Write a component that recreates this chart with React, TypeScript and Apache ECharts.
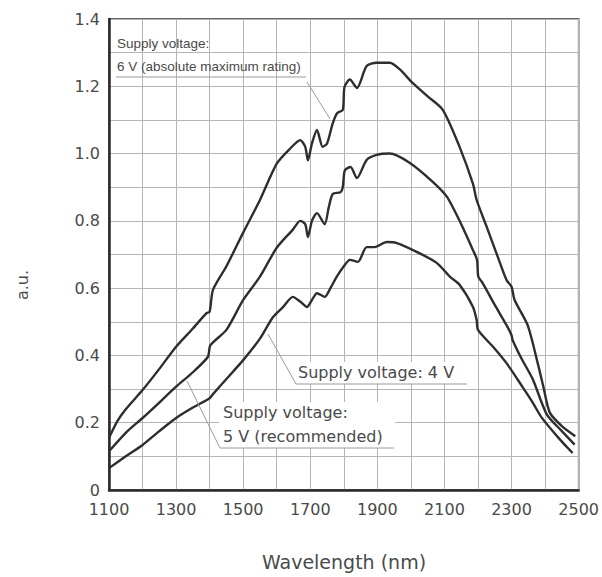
import React, { useEffect, useRef } from "react";
import * as echarts from "echarts";

// Wavelength (nm) / relative output (a.u.)
const wl6V = [1100, 1125, 1150, 1200, 1250, 1300, 1350, 1390, 1400, 1410, 1450, 1500, 1550, 1600, 1640, 1670, 1685, 1693, 1705, 1720, 1737, 1750, 1767, 1780, 1797, 1802, 1818, 1839, 1868, 1898, 1937, 1967, 2005, 2050, 2095, 2145, 2185, 2196, 2226, 2260, 2285, 2300, 2309, 2348, 2378, 2395, 2414, 2450, 2490];
const val6V = [0.155, 0.205, 0.24, 0.297, 0.36, 0.426, 0.48, 0.525, 0.53, 0.595, 0.665, 0.765, 0.862, 0.97, 1.015, 1.04, 1.02, 0.98, 1.03, 1.07, 1.02, 1.03, 1.09, 1.12, 1.13, 1.198, 1.22, 1.195, 1.26, 1.27, 1.27, 1.25, 1.21, 1.17, 1.13, 1.02, 0.91, 0.862, 0.782, 0.69, 0.624, 0.604, 0.565, 0.49, 0.377, 0.306, 0.23, 0.19, 0.16];

const wl5V = [1100, 1150, 1200, 1250, 1300, 1350, 1395, 1402, 1450, 1500, 1550, 1600, 1648, 1670, 1685, 1693, 1705, 1720, 1743, 1755, 1767, 1790, 1797, 1803, 1820, 1839, 1868, 1898, 1937, 1997, 2065, 2107, 2150, 2185, 2197, 2201, 2214, 2250, 2285, 2300, 2303, 2330, 2363, 2405, 2450, 2488];
const val5V = [0.115, 0.17, 0.214, 0.26, 0.307, 0.35, 0.396, 0.43, 0.476, 0.565, 0.634, 0.72, 0.774, 0.8, 0.79, 0.752, 0.8, 0.823, 0.79, 0.84, 0.88, 0.885, 0.9, 0.95, 0.96, 0.927, 0.981, 0.996, 1.0, 0.972, 0.916, 0.872, 0.79, 0.713, 0.684, 0.634, 0.615, 0.55, 0.49, 0.46, 0.446, 0.39, 0.33, 0.225, 0.175, 0.135];

const wl4V = [1100, 1150, 1200, 1250, 1300, 1350, 1400, 1410, 1450, 1500, 1550, 1589, 1620, 1648, 1670, 1690, 1705, 1720, 1743, 1760, 1779, 1800, 1818, 1842, 1868, 1892, 1928, 1958, 2017, 2077, 2116, 2145, 2185, 2196, 2200, 2250, 2285, 2333, 2360, 2390, 2440, 2482];
const val4V = [0.065, 0.1, 0.134, 0.175, 0.214, 0.245, 0.273, 0.285, 0.33, 0.386, 0.45, 0.514, 0.545, 0.574, 0.56, 0.544, 0.565, 0.585, 0.574, 0.6, 0.634, 0.665, 0.684, 0.678, 0.722, 0.722, 0.737, 0.734, 0.708, 0.675, 0.634, 0.61, 0.544, 0.505, 0.476, 0.42, 0.377, 0.306, 0.265, 0.215, 0.155, 0.11];

const xTickLabels = ["1100", "1300", "1500", "1700", "1900", "2100", "2300", "2500"];
const yTickLabels = ["0", "0.2", "0.4", "0.6", "0.8", "1.0", "1.2", "1.4"];

const pairs = (xs: number[], ys: number[]) => xs.map((x, i) => [x, ys[i]]);

const LINE = "#2e2e2e";
const TEXT = "#4a4a4a";
const LEAD = "#9a9a9a";
const FONT = "'DejaVu Sans', Verdana, sans-serif";

export default function App() {
  const ref = useRef<HTMLDivElement>(null);
  useEffect(() => {
    if (!ref.current) return;
    const chart = echarts.init(ref.current, undefined, { renderer: "svg" });
    const seriesBase = {
      type: "line" as const,
      showSymbol: false,
      smooth: 0.25,
      lineStyle: { color: LINE, width: 2.4 },
      z: 3,
    };
    chart.setOption({
      animation: false,
      backgroundColor: "#ffffff",
      grid: {
        left: 109,
        right: 23,
        top: 19,
        bottom: 87,
        show: true,
        borderColor: "#333",
        borderWidth: 1.5,
        backgroundColor: "transparent",
      },
      xAxis: {
        type: "value",
        min: 1100,
        max: 2500,
        interval: 100,
        axisLine: { show: true, lineStyle: { color: "#2a2a2a", width: 2.5 } },
        axisTick: { show: false },
        splitLine: { show: true, lineStyle: { color: "#b5b5b5", width: 1 } },
        axisLabel: {
          color: TEXT,
          fontFamily: FONT,
          fontSize: 16,
          margin: 11,
          formatter: (v: number) => {
            const s = String(Math.round(v));
            return xTickLabels.includes(s) ? s : "";
          },
        },
      },
      yAxis: {
        type: "value",
        min: 0,
        max: 1.4,
        interval: 0.1,
        axisLine: { show: true, lineStyle: { color: "#2a2a2a", width: 2.5 } },
        axisTick: { show: false },
        splitLine: { show: true, lineStyle: { color: "#b5b5b5", width: 1 } },
        axisLabel: {
          color: TEXT,
          fontFamily: FONT,
          fontSize: 16,
          margin: 9,
          formatter: (v: number) => {
            const t = Math.round(v * 10);
            const s = t === 0 ? "0" : (t / 10).toFixed(1);
            return yTickLabels.includes(s) ? s : "";
          },
        },
      },
      series: [
        { ...seriesBase, name: "6 V", data: pairs(wl6V, val6V) },
        { ...seriesBase, name: "5 V", data: pairs(wl5V, val5V) },
        { ...seriesBase, name: "4 V", data: pairs(wl4V, val4V) },
      ],
      graphic: [
        {
          type: "text",
          x: 22,
          y: 285,
          rotation: Math.PI / 2,
          style: { text: "a.u.", fill: TEXT, font: `16px ${FONT}`, align: "center", verticalAlign: "middle" },
        },
        {
          type: "text",
          x: 344,
          y: 562,
          style: { text: "Wavelength (nm)", fill: TEXT, font: `19px ${FONT}`, align: "center", verticalAlign: "middle" },
        },
        // 6 V annotation
        {
          type: "text",
          x: 117,
          y: 43,
          z: 5,
          style: { text: "Supply voltage:", fill: TEXT, font: "13.5px 'Liberation Sans', Arial, sans-serif", verticalAlign: "middle" },
        },
        {
          type: "text",
          x: 117,
          y: 66,
          z: 5,
          style: { text: "6 V (absolute maximum rating)", fill: TEXT, font: "13.5px 'Liberation Sans', Arial, sans-serif", verticalAlign: "middle" },
        },
        { type: "line", z: 5, shape: { x1: 116, y1: 77, x2: 306, y2: 77 }, style: { stroke: LEAD, lineWidth: 1 } },
        { type: "line", z: 5, shape: { x1: 307, y1: 82, x2: 330, y2: 119 }, style: { stroke: LEAD, lineWidth: 1 } },
        // 4 V annotation
        { type: "rect", z: 4, shape: { x: 296, y: 362, width: 173, height: 22 }, style: { fill: "#fff" } },
        {
          type: "text",
          x: 298,
          y: 372,
          z: 5,
          style: { text: "Supply voltage: 4 V", fill: TEXT, font: `16px ${FONT}`, verticalAlign: "middle" },
        },
        { type: "line", z: 5, shape: { x1: 296, y1: 384, x2: 467, y2: 384 }, style: { stroke: LEAD, lineWidth: 1 } },
        { type: "line", z: 5, shape: { x1: 268, y1: 334, x2: 296, y2: 384 }, style: { stroke: LEAD, lineWidth: 1 } },
        // 5 V annotation
        { type: "rect", z: 4, shape: { x: 219, y: 402, width: 176, height: 46 }, style: { fill: "#fff" } },
        {
          type: "text",
          x: 223,
          y: 412,
          z: 5,
          style: { text: "Supply voltage:", fill: TEXT, font: `16px ${FONT}`, verticalAlign: "middle" },
        },
        {
          type: "text",
          x: 223,
          y: 436,
          z: 5,
          style: { text: "5 V (recommended)", fill: TEXT, font: `16px ${FONT}`, verticalAlign: "middle" },
        },
        { type: "line", z: 5, shape: { x1: 220, y1: 448, x2: 394, y2: 448 }, style: { stroke: LEAD, lineWidth: 1 } },
        { type: "line", z: 5, shape: { x1: 187, y1: 381, x2: 220, y2: 448 }, style: { stroke: LEAD, lineWidth: 1 } },
      ],
    });
    return () => chart.dispose();
  }, []);
  return (
    <div
      ref={ref}
      style={{ position: "fixed", left: 0, top: 0, width: 602, height: 577, background: "#fff" }}
    />
  );
}
